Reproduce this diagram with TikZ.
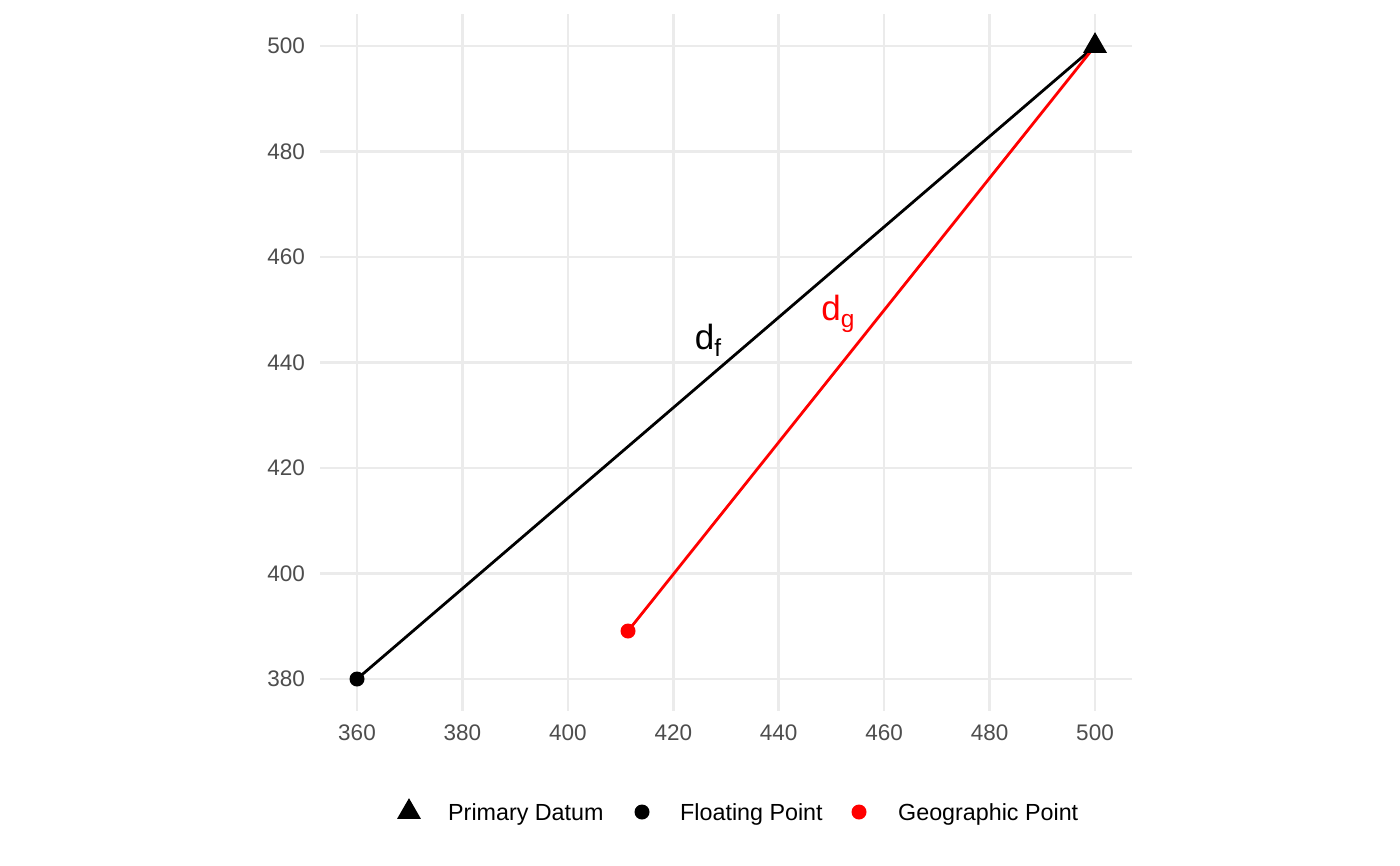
\documentclass[tikz,border=0pt]{standalone}
\usepackage{fontspec}
\setmainfont{Liberation Sans}
\usetikzlibrary{shapes.geometric}
\definecolor{gridcol}{HTML}{EBEBEB}
\definecolor{tickcol}{HTML}{4D4D4D}
\pgfdeclarelayer{gridlayer}
\pgfdeclarelayer{linelayer}
\pgfsetlayers{gridlayer,linelayer,main}
\tikzset{
  gridline/.style={draw=gridcol, line width=2.6pt},
  ticklab/.style={text=tickcol, font=\fontsize{22.5}{26}\selectfont, inner sep=0pt},
  leglab/.style={font=\fontsize{23.3}{27}\selectfont, inner sep=0pt, anchor=base west},
  tri/.style={regular polygon, regular polygon sides=3, fill=black, minimum size=27.7pt, inner sep=0pt},
  dot/.style={circle, fill=#1, minimum size=15pt, inner sep=0pt},
  seg/.style={draw=#1, line width=2.8pt},
  dlab/.style={text=#1, inner sep=0pt, font=\fontsize{35}{40}\selectfont}
}
\begin{document}
\begin{tikzpicture}[x=1pt,y=-1pt]
\useasboundingbox (0,0) rectangle (1400,865);
% grid
\begin{pgfonlayer}{gridlayer}
\fill[white] (0,0) rectangle (1400,865);
\foreach \px in {357,462.4,567.9,673.3,778.7,884.1,989.6,1095}
  \draw[gridline] (\px,14.4) -- (\px,710.6);
\foreach \py in {46,151.5,257,362.5,468,573.5,679}
  \draw[gridline] (320.1,\py) -- (1131.9,\py);
\end{pgfonlayer}
% tick labels
\foreach \px/\t in {357/360,462.4/380,567.9/400,673.3/420,778.7/440,884.1/460,989.6/480,1095/500}
  \node[ticklab, anchor=center] (xt\t) at (\px,733) {\t};
\foreach \py/\t in {46/500,151.5/480,257/460,362.5/440,468/420,573.5/400,679/380}
  \node[ticklab, anchor=east] (yt\t) at (305,\py) {\t};
% points
\node[tri] (datum) at (1095,46) {};
\node[dot=black] (float) at (357,679) {};
\node[dot=red] (geo) at (628,631) {};
% segments
\begin{pgfonlayer}{linelayer}
\draw[seg=black] (float.center) -- (datum.center);
\draw[seg=red] (geo.center) -- (datum.center);
\end{pgfonlayer}
% labels
\node[dlab=black] (df) at (708,340) {d\raisebox{-7pt}{\fontsize{24.5}{28}\selectfont f}};
\node[dlab=red] (dg) at (838,314) {d\raisebox{-7pt}{\fontsize{24.5}{28}\selectfont g}};
% legend
\node[tri] (kdatum) at (409,812) {};
\node[leglab] (ldatum) at (448,820.5) {Primary Datum};
\node[dot=black] (kfloat) at (642,812) {};
\node[leglab] (lfloat) at (680,820.5) {Floating Point};
\node[dot=red] (kgeo) at (859,812) {};
\node[leglab] (lgeo) at (898,820.5) {Geographic Point};
\end{tikzpicture}
\end{document}
